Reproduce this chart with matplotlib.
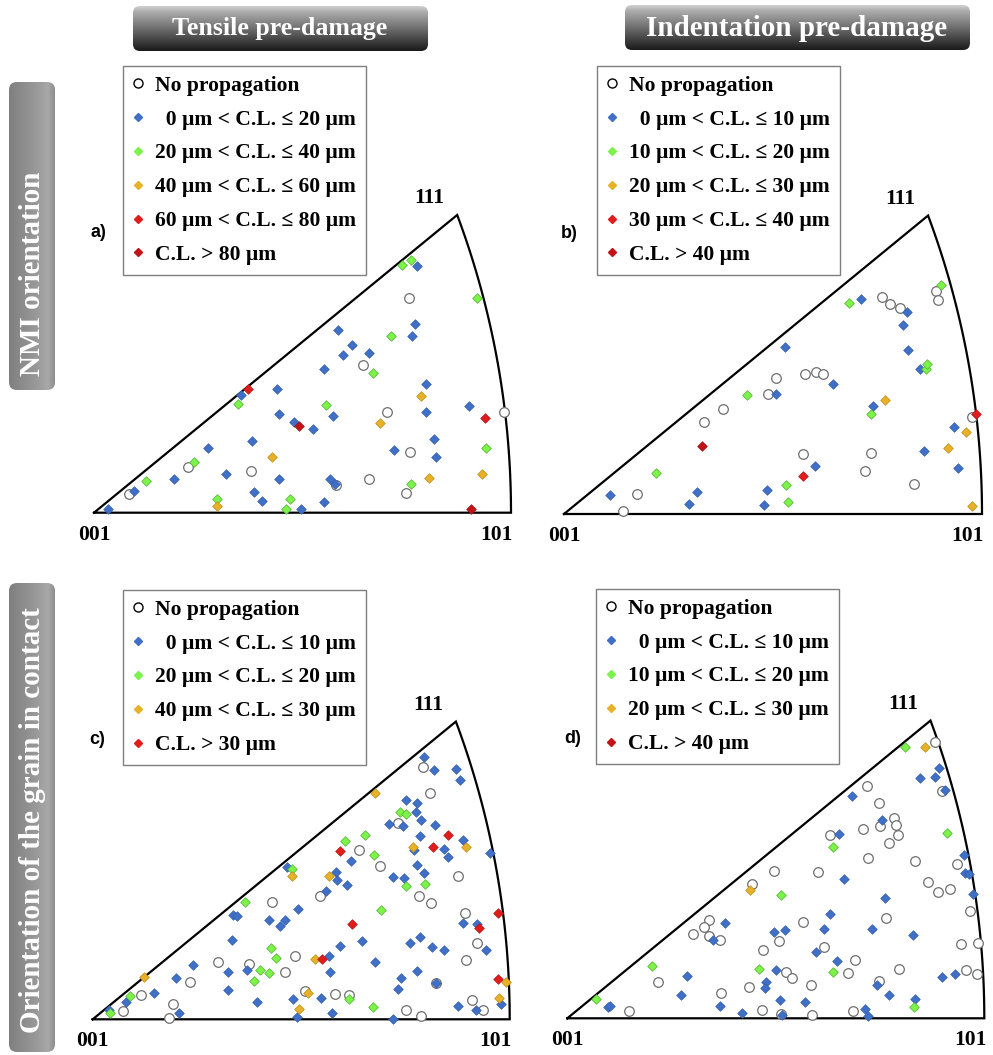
import matplotlib
matplotlib.use("Agg")
import matplotlib.pyplot as plt
import numpy as np
from matplotlib.patches import FancyBboxPatch
from matplotlib.lines import Line2D

plt.rcParams['font.family'] = ['Liberation Serif', 'DejaVu Serif']
plt.rcParams['font.weight'] = 'bold'

FW, FH = 993, 1055

# positions inside the standard triangle, 001 = (0, 0), 101 = (1, 0)
# a) tensile, NMI orientation
a_none = [(0.083, 0.046), (0.225, 0.110), (0.377, 0.101), (0.580, 0.066), (0.646, 0.355),
          (0.660, 0.081), (0.703, 0.241), (0.757, 0.145), (0.749, 0.047), (0.755, 0.516),
          (0.983, 0.241)]
a_c1 = [(0.034, 0.010), (0.097, 0.052), (0.192, 0.082), (0.273, 0.156), (0.316, 0.094),
        (0.353, 0.282), (0.379, 0.173), (0.384, 0.050), (0.404, 0.027), (0.440, 0.296),
        (0.444, 0.237), (0.444, 0.082), (0.479, 0.217), (0.496, 0.010), (0.524, 0.200),
        (0.551, 0.344), (0.551, 0.026), (0.567, 0.082), (0.574, 0.233), (0.579, 0.069),
        (0.585, 0.439), (0.598, 0.379), (0.618, 0.403), (0.659, 0.382), (0.719, 0.150),
        (0.762, 0.423), (0.769, 0.453), (0.775, 0.592), (0.797, 0.308), (0.797, 0.241),
        (0.815, 0.177), (0.819, 0.133), (0.900, 0.256)]
a_c2 = [(0.124, 0.077), (0.241, 0.122), (0.345, 0.261), (0.295, 0.032), (0.469, 0.034),
        (0.461, 0.010), (0.556, 0.258), (0.668, 0.336), (0.712, 0.424), (0.739, 0.594),
        (0.760, 0.605), (0.918, 0.516), (0.939, 0.154), (0.760, 0.070)]
a_c3 = [(0.294, 0.015), (0.426, 0.133), (0.687, 0.214), (0.783, 0.281), (0.804, 0.084),
        (0.931, 0.093)]
a_c4 = [(0.369, 0.296), (0.938, 0.226)]
a_c5 = [(0.492, 0.207), (0.905, 0.010)]

# b) indentation, NMI orientation
b_none = [(0.140, 0.006), (0.174, 0.049), (0.336, 0.221), (0.381, 0.251), (0.487, 0.286),
          (0.508, 0.326), (0.576, 0.335), (0.602, 0.339), (0.619, 0.334), (0.572, 0.143),
          (0.720, 0.104), (0.734, 0.146), (0.761, 0.519), (0.781, 0.502), (0.804, 0.494),
          (0.838, 0.072), (0.889, 0.534), (0.894, 0.512), (0.976, 0.233)]
b_c1 = [(0.111, 0.045), (0.299, 0.024), (0.318, 0.053), (0.478, 0.022), (0.486, 0.057),
        (0.506, 0.287), (0.529, 0.400), (0.601, 0.115), (0.643, 0.312), (0.710, 0.515),
        (0.740, 0.258), (0.811, 0.452), (0.820, 0.483), (0.823, 0.393), (0.852, 0.346),
        (0.861, 0.151), (0.934, 0.208), (0.943, 0.110)]
b_c2 = [(0.221, 0.099), (0.437, 0.285), (0.530, 0.069), (0.535, 0.029), (0.682, 0.504),
        (0.735, 0.239), (0.865, 0.348), (0.869, 0.360), (0.902, 0.548)]
b_c3 = [(0.768, 0.273), (0.919, 0.157), (0.962, 0.197), (0.976, 0.018)]
b_c4 = [(0.572, 0.092), (0.986, 0.239)]
b_c5 = [(0.331, 0.163)]

# c) tensile, grain in contact
c_none = [(0.791, 0.604), (0.809, 0.543), (0.731, 0.470), (0.639, 0.407), (0.689, 0.367),
          (0.875, 0.343), (0.546, 0.295), (0.783, 0.296), (0.812, 0.280), (0.429, 0.282),
          (0.893, 0.255), (0.922, 0.182), (0.895, 0.143), (0.486, 0.151), (0.301, 0.137),
          (0.375, 0.132), (0.462, 0.113), (0.233, 0.089), (0.823, 0.086), (0.117, 0.058),
          (0.073, 0.021), (0.192, 0.037), (0.184, 0.004), (0.509, 0.068), (0.580, 0.061),
          (0.614, 0.058), (0.751, 0.023), (0.788, 0.008), (0.909, 0.046), (0.935, 0.022)]
c_c1 = [(0.795, 0.629), (0.818, 0.599), (0.871, 0.601), (0.881, 0.573), (0.752, 0.527),
        (0.777, 0.518), (0.775, 0.498), (0.710, 0.469), (0.744, 0.464), (0.788, 0.477),
        (0.821, 0.466), (0.784, 0.439), (0.889, 0.430), (0.842, 0.409), (0.853, 0.389),
        (0.953, 0.399), (0.771, 0.407), (0.619, 0.380), (0.777, 0.371), (0.794, 0.350),
        (0.583, 0.354), (0.586, 0.334), (0.611, 0.322), (0.719, 0.341), (0.746, 0.339),
        (0.466, 0.365), (0.560, 0.308), (0.492, 0.264), (0.337, 0.250), (0.345, 0.248),
        (0.422, 0.238), (0.460, 0.239), (0.450, 0.224), (0.334, 0.190), (0.888, 0.232),
        (0.922, 0.229), (0.592, 0.176), (0.646, 0.188), (0.760, 0.184), (0.785, 0.198),
        (0.814, 0.174), (0.842, 0.166), (0.942, 0.166), (0.567, 0.152), (0.241, 0.131),
        (0.324, 0.113), (0.369, 0.118), (0.569, 0.113), (0.677, 0.137), (0.778, 0.115),
        (0.739, 0.098), (0.199, 0.099), (0.146, 0.062), (0.080, 0.041), (0.038, 0.022),
        (0.324, 0.071), (0.393, 0.041), (0.480, 0.048), (0.548, 0.050), (0.732, 0.072),
        (0.824, 0.086), (0.875, 0.033), (0.919, 0.022), (0.979, 0.037), (0.207, 0.014),
        (0.490, 0.006), (0.575, 0.015), (0.720, 0.001)]
c_c2 = [(0.738, 0.497), (0.752, 0.493), (0.653, 0.442), (0.606, 0.428), (0.674, 0.395),
        (0.479, 0.360), (0.751, 0.320), (0.796, 0.324), (0.366, 0.282), (0.692, 0.263),
        (0.427, 0.170), (0.439, 0.146), (0.402, 0.119), (0.422, 0.110), (0.388, 0.092),
        (0.089, 0.057), (0.042, 0.014), (0.615, 0.049), (0.672, 0.029)]
c_c3 = [(0.678, 0.542), (0.768, 0.413), (0.896, 0.413), (0.478, 0.343), (0.567, 0.344),
        (0.534, 0.145), (0.124, 0.101), (0.516, 0.064), (0.495, 0.024), (0.974, 0.051),
        (0.991, 0.089)]
c_c4 = [(0.851, 0.443), (0.816, 0.414), (0.593, 0.404), (0.621, 0.228), (0.973, 0.256),
        (0.927, 0.220), (0.550, 0.145), (0.973, 0.097)]

# d) indentation, grain in contact
d_none = [(0.882, 0.662), (0.718, 0.556), (0.748, 0.517), (0.898, 0.546), (0.783, 0.480),
          (0.788, 0.463), (0.751, 0.461), (0.794, 0.439), (0.772, 0.421), (0.631, 0.440),
          (0.708, 0.454), (0.721, 0.384), (0.834, 0.378), (0.934, 0.371), (0.864, 0.328),
          (0.888, 0.304), (0.918, 0.309), (0.496, 0.353), (0.600, 0.351), (0.443, 0.321),
          (0.966, 0.258), (0.765, 0.240), (0.566, 0.231), (0.341, 0.236), (0.329, 0.220),
          (0.301, 0.203), (0.340, 0.197), (0.365, 0.188), (0.508, 0.185), (0.469, 0.164),
          (0.615, 0.172), (0.689, 0.141), (0.943, 0.177), (0.985, 0.181), (0.524, 0.110),
          (0.540, 0.097), (0.672, 0.108), (0.795, 0.118), (0.957, 0.116), (0.983, 0.106),
          (0.218, 0.088), (0.436, 0.074), (0.585, 0.081), (0.747, 0.090), (0.369, 0.060),
          (0.148, 0.018), (0.468, 0.020), (0.513, 0.010), (0.588, 0.008), (0.686, 0.018)]
d_c1 = [(0.891, 0.601), (0.847, 0.577), (0.881, 0.579), (0.905, 0.548), (0.683, 0.533),
        (0.754, 0.476), (0.651, 0.442), (0.952, 0.392), (0.954, 0.349), (0.963, 0.345),
        (0.663, 0.334), (0.974, 0.297), (0.762, 0.289), (0.631, 0.249), (0.378, 0.229),
        (0.731, 0.215), (0.616, 0.214), (0.495, 0.207), (0.521, 0.211), (0.830, 0.200),
        (0.349, 0.187), (0.597, 0.159), (0.647, 0.138), (0.501, 0.117), (0.287, 0.102),
        (0.477, 0.088), (0.474, 0.073), (0.898, 0.099), (0.930, 0.106), (0.743, 0.081),
        (0.272, 0.055), (0.771, 0.055), (0.835, 0.047), (0.509, 0.043), (0.569, 0.040),
        (0.367, 0.030), (0.097, 0.026), (0.102, 0.030), (0.419, 0.013), (0.516, 0.007),
        (0.713, 0.022), (0.722, 0.006)]
d_c2 = [(0.811, 0.650), (0.910, 0.445), (0.636, 0.411), (0.513, 0.296), (0.204, 0.126),
        (0.460, 0.118), (0.636, 0.112), (0.069, 0.046), (0.832, 0.028)]
d_c3 = [(0.857, 0.651), (0.438, 0.308)]
d_c4 = []

labels_a = ["No propagation", "  0 µm < C.L. ≤ 20 µm", "20 µm < C.L. ≤ 40 µm",
            "40 µm < C.L. ≤ 60 µm", "60 µm < C.L. ≤ 80 µm", "C.L. > 80 µm"]
labels_b = ["No propagation", "  0 µm < C.L. ≤ 10 µm", "10 µm < C.L. ≤ 20 µm",
            "20 µm < C.L. ≤ 30 µm", "30 µm < C.L. ≤ 40 µm", "C.L. > 40 µm"]
labels_c = ["No propagation", "  0 µm < C.L. ≤ 10 µm", "20 µm < C.L. ≤ 20 µm",
            "40 µm < C.L. ≤ 30 µm", "C.L. > 30 µm"]
labels_d = ["No propagation", "  0 µm < C.L. ≤ 10 µm", "10 µm < C.L. ≤ 20 µm",
            "20 µm < C.L. ≤ 30 µm", "C.L. > 40 µm"]

headers = ["Tensile pre-damage", "Indentation pre-damage"]
row_titles = ["NMI orientation", "Orientation of the grain in contact"]

BLUE, GREEN, ORANGE, RED, DRED = '#3f6fc6', '#7cf24a', '#e7b229', '#e01c1c', '#c21418'
EDGE = {BLUE: '#3560ad', GREEN: '#4fb52c', ORANGE: '#c08d14', RED: '#b81414', DRED: '#9c0f12'}

P111 = (0.871, 0.714)
ARC_C, ARC_R = -1.04, 2.04

fig = plt.figure(figsize=(FW / 100, FH / 100), dpi=100)

# background layer in pixel units for the title boxes
bg = fig.add_axes([0, 0, 1, 1])
bg.set_xlim(0, FW)
bg.set_ylim(FH, 0)
bg.axis('off')


def grad_box(x0, y0, x1, y1, stops, horizontal=False, r=7):
    box = FancyBboxPatch((x0, y0), x1 - x0, y1 - y0,
                         boxstyle=f"round,pad=0,rounding_size={r}", fc='none', ec='none')
    bg.add_patch(box)
    v = np.interp(np.linspace(0, 1, 200), [s[0] for s in stops], [s[1] for s in stops])
    img = v[None, :] if horizontal else v[:, None]
    im = bg.imshow(img, cmap='gray', vmin=0, vmax=1, extent=(x0, x1, y1, y0),
                   aspect='auto', interpolation='bilinear')
    im.set_clip_path(box)


hstops = [(0, 0.82), (0.12, 0.68), (0.55, 0.40), (1, 0.10)]
grad_box(133, 6, 428, 51, hstops)
grad_box(625, 5, 970, 50, hstops)
bg.text(280, 29, headers[0], color='white', fontsize=18.6, ha='center', va='center')
bg.text(797, 28, headers[1], color='white', fontsize=21, ha='center', va='center')

vstops = [(0, 0.50), (0.6, 0.60), (0.85, 0.66), (1, 0.55)]
grad_box(9, 82, 55, 390, vstops, horizontal=True, r=8)
grad_box(9, 583, 55, 1052, vstops, horizontal=True, r=8)
bg.text(33, 274, row_titles[0], color='white', fontsize=21, rotation=90,
        ha='center', va='center')
bg.text(33, 820, row_titles[1], color='white', fontsize=21, rotation=90,
        ha='center', va='center')
bg.set_xlim(0, FW)
bg.set_ylim(FH, 0)


def panel(ox, oy, w, groups, labels, letter, leg_xy):
    x0, x1, y0, y1 = -0.1, 1.08, -0.1, 0.8
    ax = fig.add_axes([(ox + x0 * w) / FW, 1 - (oy - y0 * w) / FH,
                       (x1 - x0) * w / FW, (y1 - y0) * w / FH])
    ax.set_xlim(x0, x1)
    ax.set_ylim(y0, y1)
    ax.axis('off')

    # standard triangle
    t = np.linspace(0, np.arctan2(P111[1], P111[0] - ARC_C), 100)
    tx = np.r_[0, ARC_C + ARC_R * np.cos(t), 0]
    ty = np.r_[0, ARC_R * np.sin(t), 0]
    ax.plot(tx, ty, color='black', lw=1.6, solid_joinstyle='miter', zorder=1)

    none_pts = np.array(groups[0])
    ax.scatter(none_pts[:, 0], none_pts[:, 1], s=48, marker='o', facecolor='white',
               edgecolor='#6e6e6e', linewidth=0.9, zorder=2)
    handles = [Line2D([], [], ls='none', marker='o', ms=6.5, mfc='white', mec='black', mew=1.0)]
    for pts, col in groups[1:]:
        if len(pts):
            p = np.array(pts)
            ax.scatter(p[:, 0], p[:, 1], s=24, marker='D', facecolor=col,
                       edgecolor=EDGE[col], linewidth=0.5, zorder=3)
        handles.append(Line2D([], [], ls='none', marker='D', ms=4.4, mfc=col, mec=col))

    ax.text(0, -0.053, "001", fontsize=15.5, ha='center', va='center')
    ax.text(1.005, -0.053, "101", fontsize=15.5, ha='right', va='center')
    ax.text(P111[0] - 0.03, P111[1] + 0.04, "111", fontsize=15.5, ha='right', va='center')
    ax.text(-0.008, 0.672, letter, fontsize=13, ha='left', va='center',
            family=['Liberation Sans', 'DejaVu Sans'])

    leg = ax.legend(handles, labels, loc='upper left',
                    bbox_to_anchor=(leg_xy[0] / FW, 1 - (leg_xy[1] + 2) / FH),
                    bbox_transform=fig.transFigure, borderaxespad=0,
                    frameon=True, fancybox=False, framealpha=1, edgecolor='#7f7f7f',
                    borderpad=0.45, labelspacing=0.64, handlelength=0.5,
                    handletextpad=0.55, prop={'size': 15.5, 'weight': 'bold'})
    leg.get_frame().set_linewidth(1.0)
    leg.set_zorder(10)


panel(94, 512.7, 417, [a_none, (a_c1, BLUE), (a_c2, GREEN), (a_c3, ORANGE), (a_c4, RED), (a_c5, DRED)],
      labels_a, "a)", (123, 64))
panel(564, 514, 418, [b_none, (b_c1, BLUE), (b_c2, GREEN), (b_c3, ORANGE), (b_c4, RED), (b_c5, DRED)],
      labels_b, "b)", (597, 64))
panel(92.7, 1019.3, 417, [c_none, (c_c1, BLUE), (c_c2, GREEN), (c_c3, ORANGE), (c_c4, RED)],
      labels_c, "c)", (123, 588))
panel(567.3, 1018.3, 417, [d_none, (d_c1, BLUE), (d_c2, GREEN), (d_c3, ORANGE), (d_c4, DRED)],
      labels_d, "d)", (596, 587))

fig.savefig("out.png", dpi=100)
